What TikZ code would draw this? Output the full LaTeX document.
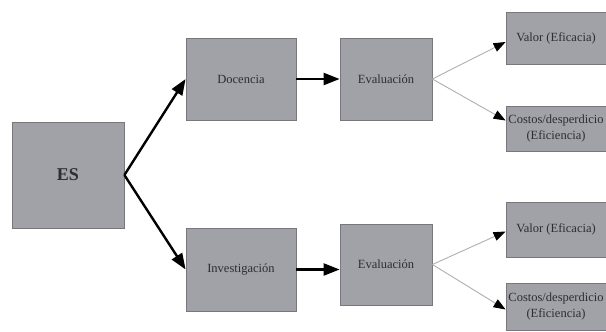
\documentclass[tikz,border=0pt]{standalone}
\usepackage{fontspec}
\setmainfont{Liberation Serif}
\usetikzlibrary{arrows.meta,calc}
\definecolor{boxfill}{RGB}{161,162,167}
\definecolor{boxline}{RGB}{120,120,124}
\definecolor{txt}{RGB}{45,45,50}
\definecolor{thinline}{RGB}{175,175,178}
\tikzset{
  box/.style={rectangle, draw=boxline, line width=0.8pt, fill=boxfill, inner sep=1pt,
    text=txt, font=\fontsize{12.5}{16}\selectfont, align=center},
  thick arrow/.style={line width=2.4pt, black, -{Triangle[length=16pt,width=12pt]}},
  thin arrow/.style={line width=0.9pt, draw=thinline, -{Triangle[length=12pt,width=9pt,color=black]}},
}
\begin{document}
\begin{tikzpicture}[x=1pt,y=-1pt]
\useasboundingbox (0,0) rectangle (606,332);
\node[box, minimum width=112pt, minimum height=106pt, font=\fontsize{18}{20}\selectfont\bfseries] (es) at (68,175) {ES};
\node[box, minimum width=110pt, minimum height=82pt] (doc) at (241,79) {Docencia};
\node[box, minimum width=110pt, minimum height=83pt] (inv) at (241,269.5) {Investigación};
\node[box, minimum width=92pt, minimum height=82pt] (ev1) at (386,79) {Evaluación};
\node[box, minimum width=92pt, minimum height=81pt] (ev2) at (386,264.5) {Evaluación};
\node[box, minimum width=100pt, minimum height=52pt] (v1) at (556,38) {Valor (Eficacia)};
\node[box, minimum width=100pt, minimum height=45pt] (c1) at (556,128.5) {Costos/desperdicio\\(Eficiencia)};
\node[box, minimum width=100pt, minimum height=55pt] (v2) at (556,229.5) {Valor (Eficacia)};
\node[box, minimum width=100pt, minimum height=47pt] (c2) at (556,306.5) {Costos/desperdicio\\(Eficiencia)};

\draw[thick arrow] (es.east) -- (doc.west);
\draw[thick arrow] (es.east) -- (inv.west);
\draw[thick arrow] (doc.east) -- (doc.east -| ev1.west);
\draw[thick arrow] (inv.east) -- (inv.east -| ev2.west);
\draw[thin arrow] (ev1.east) -- ($(v1.west)+(0,4)$);
\draw[thin arrow] (ev1.east) -- ($(c1.west)+(0,-8)$);
\draw[thin arrow] (ev2.east) -- ($(v2.west)+(0,2)$);
\draw[thin arrow] (ev2.east) -- ($(c2.west)+(0,3)$);
\end{tikzpicture}
\end{document}
